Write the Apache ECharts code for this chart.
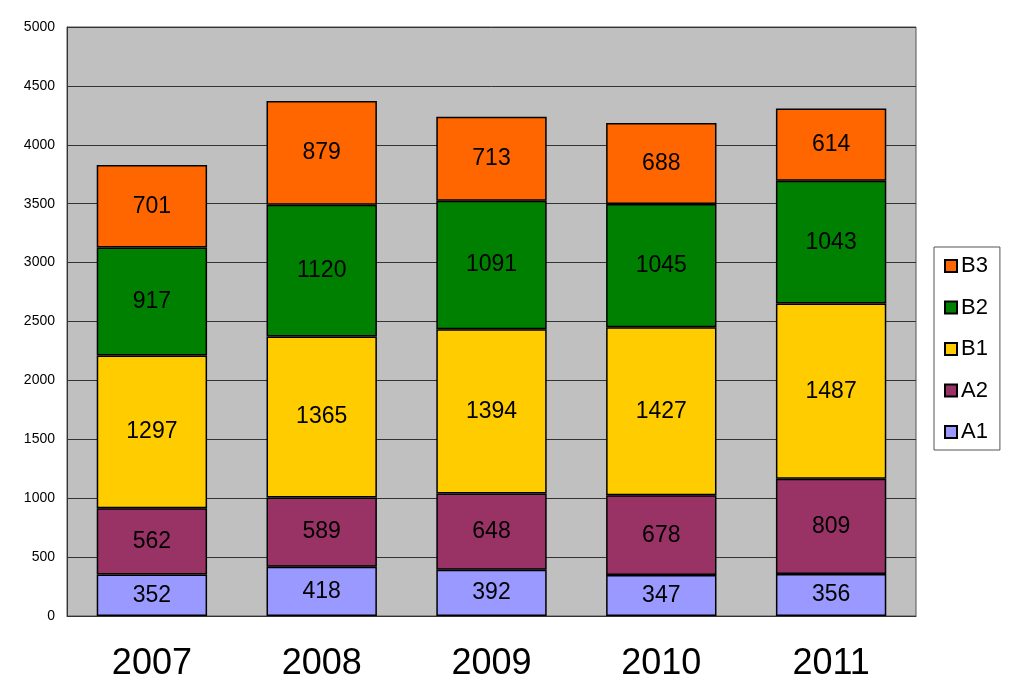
<!DOCTYPE html>
<html><head><meta charset="utf-8">
<script src="https://cdn.jsdelivr.net/npm/echarts@6/dist/echarts.min.js"></script>
<style>html,body{margin:0;padding:0;background:#fff}#c{width:1024px;height:700px}</style>
</head><body><div id="c"></div>
<script>
const years = ['2007','2008','2009','2010','2011'];
const A1 = [352, 418, 392, 347, 356];
const A2 = [562, 589, 648, 678, 809];
const B1 = [1297, 1365, 1394, 1427, 1487];
const B2 = [917, 1120, 1091, 1045, 1043];
const B3 = [701, 879, 713, 688, 614];
const seriesNames = ['A1','A2','B1','B2','B3'];
const seriesData = [A1, A2, B1, B2, B3];
const colors = ['#9999FF','#993366','#FFCC00','#008000','#FF6600'];

const chart = echarts.init(document.getElementById('c'));
chart.setOption({
  animation: false,
  backgroundColor: '#fff',
  textStyle: {fontFamily: 'Liberation Sans, Arial, sans-serif'},
  grid: {left: 67, right: 108, top: 27, bottom: 84, show: true, backgroundColor: '#C0C0C0', borderColor: '#555', borderWidth: 1},
  legend: {
    data: ['B3','B2','B1','A2','A1'],
    orient: 'vertical',
    left: 934, top: 247,
    padding: [8, 12, 7, 10],
    itemWidth: 12, itemHeight: 12, itemGap: 19.5,
    borderColor: '#555', borderWidth: 1,
    textStyle: {fontSize: 22, color: '#000', fontFamily: 'Liberation Sans, Arial, sans-serif', padding: [0,0,0,-1]},
    icon: 'rect'
  },
  xAxis: {
    type: 'category', data: years,
    axisLine: {lineStyle: {color: '#333'}},
    axisTick: {show: false},
    axisLabel: {fontSize: 36, color: '#000', margin: 30}
  },
  yAxis: {
    type: 'value', min: 0, max: 5000, interval: 500,
    axisLine: {show: true, lineStyle: {color: '#333'}},
    axisTick: {show: false},
    splitLine: {lineStyle: {color: '#333', width: 1}},
    axisLabel: {fontSize: 14, color: '#000', margin: 12, formatter: v => String(v)}
  },
  series: seriesNames.map((n, i) => ({
    name: n, type: 'bar', stack: 'total', barWidth: '65%',
    data: seriesData[i],
    itemStyle: {color: colors[i], borderColor: '#000', borderWidth: 1.5},
    label: {show: true, position: 'inside', fontSize: 23, color: '#000'}
  }))
});
</script></body></html>
